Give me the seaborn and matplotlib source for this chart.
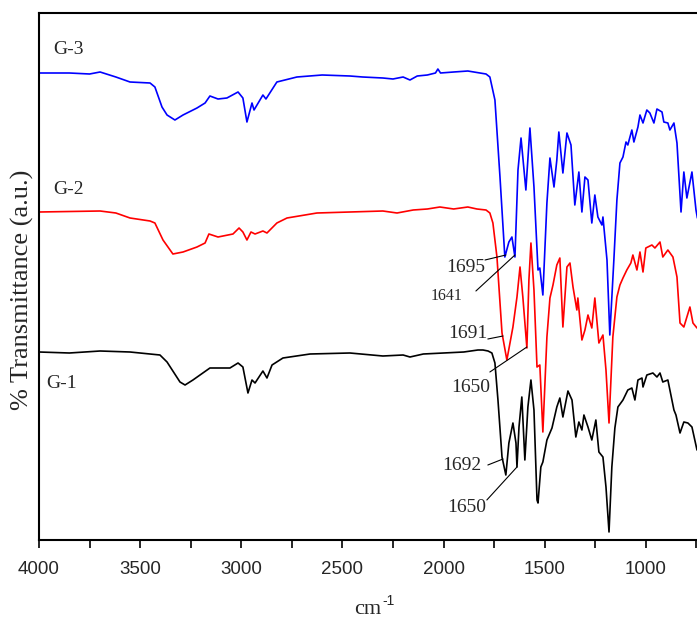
import matplotlib
matplotlib.use("Agg")
import matplotlib.pyplot as plt
from matplotlib.ticker import MultipleLocator
import numpy as np
import pandas as pd
import seaborn as sns

# ---- data (wavenumber in cm-1, transmittance in arbitrary units) ----
g3_wn = [4000, 3850, 3750, 3698, 3620, 3550, 3451, 3427, 3392, 3367, 3328, 3288, 3219, 3179,
         3155, 3115, 3071, 3016, 2992, 2972, 2947, 2937, 2893, 2878, 2824, 2725, 2600, 2463,
         2400, 2300, 2250, 2200, 2166, 2130, 2080, 2040, 2028, 2015, 1950, 1880, 1820, 1790,
         1771, 1746, 1721, 1697, 1677, 1662, 1647, 1632, 1617,
         1593, 1573, 1553, 1533, 1524, 1509, 1489, 1474, 1454, 1440, 1430, 1410, 1390, 1370,
         1351, 1331, 1316, 1301, 1286, 1267, 1252, 1237, 1217, 1212, 1192, 1178, 1158, 1143,
         1128, 1113, 1098, 1089, 1069, 1059, 1039, 1029, 1014, 995, 980, 960, 945, 920, 911,
         891, 881, 861, 846, 826, 812, 797, 772, 752, 745]
g3_t = [467, 467, 466, 468, 463, 458, 457, 453, 433, 425, 420, 425, 432, 437,
        444, 441, 442, 448, 442, 418, 437, 430, 445, 441, 458, 463, 465, 464,
        463, 462, 461, 463, 460, 464, 465, 467, 471, 467, 468, 469, 467, 466,
        463, 440, 363, 283, 298, 303, 283, 370, 402,
        350, 412, 353, 270, 272, 245, 337, 382, 353, 380, 408, 367, 407, 395,
        335, 368, 328, 363, 360, 317, 345, 323, 315, 323, 280, 205, 280, 340,
        377, 383, 398, 395, 410, 398, 413, 425, 417, 430, 427, 417, 431, 428, 418,
        417, 410, 417, 397, 328, 368, 342, 368, 330, 322]

g2_wn = [4000, 3698, 3620, 3550, 3451, 3427, 3387, 3338, 3288, 3219, 3179, 3160, 3115, 3041,
         3011, 2992, 2972, 2952, 2932, 2893, 2873, 2824, 2774, 2626, 2463, 2300, 2230, 2150,
         2080, 2018, 1950, 1880, 1835, 1790, 1771, 1756, 1736, 1711, 1687, 1657, 1637, 1622, 1608,
         1588, 1578, 1568, 1553, 1538, 1524, 1509, 1489, 1474, 1459, 1440, 1425, 1410, 1390,
         1375, 1360, 1341, 1336, 1316, 1301, 1286, 1267, 1252, 1232, 1212, 1197, 1182, 1163,
         1143, 1128, 1113, 1094, 1074, 1064, 1044, 1029, 1014, 1000, 970, 955, 930, 916, 891,
         866, 846, 831, 812, 782, 767, 747]
g2_t = [328, 329, 327, 322, 319, 317, 300, 286, 288, 293, 297, 306, 303, 306,
        312, 308, 300, 308, 306, 309, 307, 317, 322, 327, 328, 329, 327, 330,
        331, 333, 331, 333, 331, 330, 327, 317, 283, 207, 180, 213, 243, 273, 243,
        192, 260, 297, 250, 173, 175, 108, 203, 242, 255, 275, 282, 213, 273,
        277, 253, 230, 242, 200, 210, 225, 212, 242, 197, 205, 170, 117, 203,
        243, 255, 262, 270, 277, 285, 270, 288, 268, 292, 295, 292, 298, 283, 290,
        283, 263, 217, 213, 233, 217, 212]

g1_wn = [4000, 3850, 3698, 3550, 3402, 3367, 3303, 3278, 3239, 3155, 3056, 3016, 2992, 2967,
         2947, 2932, 2893, 2873, 2848, 2794, 2660, 2463, 2300, 2200, 2166, 2100, 2000, 1900,
         1830, 1805, 1780, 1761, 1746, 1731, 1711, 1692, 1677, 1657, 1642, 1637,
         1627, 1613, 1598, 1583, 1568, 1553, 1538, 1533, 1519, 1509, 1489, 1464, 1440, 1425,
         1410, 1385, 1365, 1346, 1331, 1316, 1306, 1286, 1267, 1247, 1232, 1212, 1197, 1182,
         1168, 1153, 1138, 1113, 1089, 1069, 1054, 1039, 1019, 1014, 995, 965, 945, 930, 916,
         891, 871, 861, 851, 831, 812, 792, 772, 747]
g1_t = [188, 187, 189, 188, 185, 178, 158, 155, 160, 172, 172, 177, 173, 147,
        160, 157, 169, 162, 175, 182, 186, 187, 184, 185, 183, 186, 187, 188,
        190, 190, 189, 187, 177, 140, 83, 65, 97, 117, 97, 73,
        113, 143, 80, 133, 160, 130, 40, 37, 73, 78, 100, 112, 133, 142,
        123, 149, 140, 103, 118, 110, 125, 113, 100, 120, 88, 83, 53, 8,
        73, 112, 133, 140, 150, 152, 140, 160, 162, 153, 165, 167, 163, 167, 158,
        160, 140, 130, 125, 107, 118, 117, 113, 90]

series_names = ["G-3", "G-2", "G-1"]
series_colors = ["#0000ff", "#ff0000", "#000000"]
x_ticks = [4000, 3500, 3000, 2500, 2000, 1500, 1000]

# peak annotations
ann_labels = ["1695", "1641", "1691", "1650", "1692", "1650"]
ann_sizes = [14, 11.5, 14, 14, 14, 14]

df = pd.concat([
    pd.DataFrame({"wn": g3_wn, "T": g3_t, "sample": "G-3"}),
    pd.DataFrame({"wn": g2_wn, "T": g2_t, "sample": "G-2"}),
    pd.DataFrame({"wn": g1_wn, "T": g1_t, "sample": "G-1"}),
], ignore_index=True)

sns.set_style("ticks")
plt.rcParams["font.family"] = ["Liberation Serif", "DejaVu Serif"]

fig = plt.figure(figsize=(6.97, 6.23), dpi=100)
ax = fig.add_axes([39 / 697, 1 - 540 / 623, 1 - 39 / 697, (540 - 13) / 623])

sns.lineplot(data=df, x="wn", y="T", hue="sample", hue_order=series_names,
             palette=dict(zip(series_names, series_colors)), sort=False,
             estimator=None, linewidth=1.2, legend=False, ax=ax)

ax.set_xlim(4000, 747)
ax.set_ylim(0, 527)
ax.set_xticks(x_ticks)
ax.xaxis.set_minor_locator(MultipleLocator(250))
ax.set_yticks([])
for lab in ax.get_xticklabels():
    lab.set_fontfamily("Liberation Sans")
    lab.set_fontsize(13.5)
ax.tick_params(axis="x", which="both", direction="out", length=6, width=1.2,
               color="black", pad=9)
for s in ["left", "top", "bottom"]:
    ax.spines[s].set_linewidth(1.5)
    ax.spines[s].set_color("black")
ax.spines["right"].set_visible(False)

ax.set_xlabel("cm", fontsize=16, labelpad=16)
fig.text(382 / 697, 1 - 601 / 623, "-1", fontsize=10, family="Liberation Sans",
         ha="left", va="center")
ax.set_ylabel("% Transmittance (a.u.)", fontsize=19)
ax.yaxis.set_label_coords(-0.007, 0.474)

# sample labels
for name, (tx, ty) in zip(series_names, [(3852, 490), (3852, 350), (3886, 157)]):
    ax.text(tx, ty, name, fontsize=14, ha="center", va="center")

ann_text = [(1889, 272), (1983, 244), (1879, 207), (1865, 152), (1909, 74), (1884, 33)]
ann_from = [(1795, 280), (1840, 249), (1781, 201), (1771, 168), (1781, 75), (1786, 40)]
ann_to = [(1692, 285), (1647, 285), (1706, 204), (1588, 193), (1706, 81), (1637, 73)]
for lab, fs, tp, p0, p1 in zip(ann_labels, ann_sizes, ann_text, ann_from, ann_to):
    ax.text(tp[0], tp[1], lab, fontsize=fs, ha="center", va="center")
    ax.plot([p0[0], p1[0]], [p0[1], p1[1]], color="black", linewidth=0.8)

fig.savefig("out.png", dpi=100)
